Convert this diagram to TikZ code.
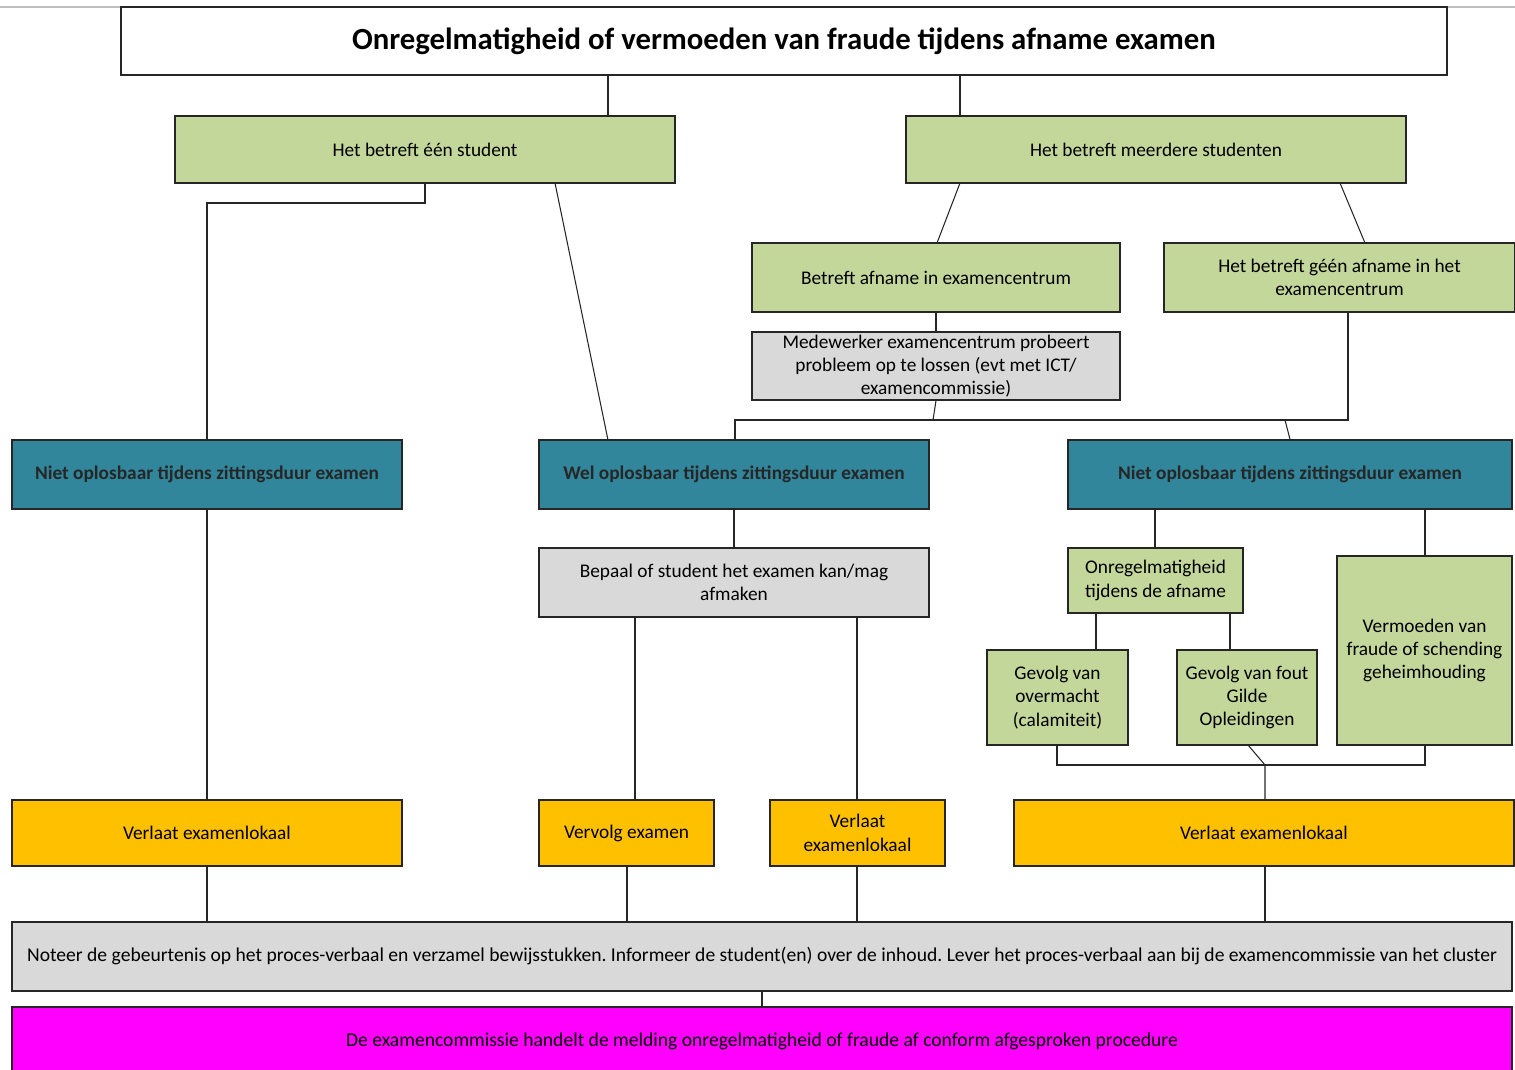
\documentclass[tikz,border=0pt]{standalone}
\usepackage{fontspec}
\setmainfont{Carlito}
\usepackage{tikz}
\frenchspacing

\definecolor{groen}{HTML}{C4D79B}
\definecolor{grijs}{HTML}{D9D9D9}
\definecolor{petrol}{HTML}{31869B}
\definecolor{oranje}{HTML}{FFC000}
\definecolor{roze}{HTML}{FF00FF}

\begin{document}
\begin{tikzpicture}[x=0.02cm, y=-0.02cm,
        blok/.style={draw=black!85, line width=0.8pt, rectangle, align=center, inner sep=1pt,
            font=\fontsize{11}{13.3}\selectfont, text=black},
        groenblok/.style={blok, fill=groen},
        grijsblok/.style={blok, fill=grijs},
        petrolblok/.style={blok, fill=petrol, font=\fontsize{11}{13.3}\selectfont\bfseries, text=black!85},
        oranjeblok/.style={blok, fill=oranje},
        lijn/.style={draw=black!85, line width=0.6pt}]
        \useasboundingbox (0,0) rectangle (1515,1069);
        \draw[black!25, line width=0.8pt] (0,7) -- (1515,7);

        % kop en eerste splitsing
        \node[blok, fill=white, minimum width=26.52cm, minimum height=1.36cm,
            font=\fontsize{17.5}{20}\selectfont\bfseries] (titel) at (784,41) {Onregelmatigheid of vermoeden van fraude tijdens afname examen};
        \node[groenblok, minimum width=10cm, minimum height=1.34cm] (een) at (425,149.5) {Het betreft één student};
        \node[groenblok, minimum width=10cm, minimum height=1.34cm] (meer) at (1156,149.5) {Het betreft meerdere studenten};
        \node[groenblok, minimum width=7.36cm, minimum height=1.38cm] (centrum) at (936,277.5) {Betreft afname in examencentrum};
        \node[groenblok, minimum width=7.02cm, minimum height=1.38cm] (geen) at (1339.5,277.5) {Het betreft géén afname in het\\examencentrum};
        \node[grijsblok, minimum width=7.36cm, minimum height=1.36cm] (medewerker) at (936,366) {Medewerker examencentrum probeert\\probleem op te lossen (evt met ICT/\\examencommissie)};

        % oplosbaar of niet
        \node[petrolblok, minimum width=7.8cm, minimum height=1.38cm] (nietA) at (207,474.5) {Niet oplosbaar tijdens zittingsduur examen};
        \node[petrolblok, minimum width=7.8cm, minimum height=1.38cm] (wel) at (734,474.5) {Wel oplosbaar tijdens zittingsduur examen};
        \node[petrolblok, minimum width=8.88cm, minimum height=1.38cm] (nietB) at (1290,474.5) {Niet oplosbaar tijdens zittingsduur examen};

        \node[grijsblok, minimum width=7.8cm, minimum height=1.38cm] (bepaal) at (734,582.5) {Bepaal of student het examen kan/mag\\afmaken};
        \node[groenblok, minimum width=3.5cm, minimum height=1.3cm] (onreg) at (1155.5,580.5) {Onregelmatigheid\\tijdens de afname};
        \node[groenblok, minimum width=3.5cm, minimum height=3.78cm] (vermoeden) at (1424.5,650.5) {Vermoeden van\\fraude of schending\\geheimhouding};
        \node[groenblok, minimum width=2.82cm, minimum height=1.9cm] (overmacht) at (1057.5,697.5) {Gevolg van\\overmacht\\(calamiteit)};
        \node[groenblok, minimum width=2.8cm, minimum height=1.9cm] (fout) at (1247,697.5) {Gevolg van fout\\Gilde\\Opleidingen};

        % uitkomsten
        \node[oranjeblok, minimum width=7.8cm, minimum height=1.32cm] (verlaatA) at (207,833) {Verlaat examenlokaal};
        \node[oranjeblok, minimum width=3.5cm, minimum height=1.32cm] (vervolg) at (626.5,833) {Vervolg examen};
        \node[oranjeblok, minimum width=3.5cm, minimum height=1.32cm] (verlaatB) at (857.5,833) {Verlaat\\examenlokaal};
        \node[oranjeblok, minimum width=10cm, minimum height=1.32cm] (verlaatC) at (1264,833) {Verlaat examenlokaal};
        \node[grijsblok, minimum width=30cm, minimum height=1.38cm, font=\fontsize{11.15}{13.3}\selectfont] (noteer) at (762,956.5) {Noteer de gebeurtenis op het proces-verbaal en verzamel bewijsstukken. Informeer de student(en) over de inhoud. Lever het proces-verbaal aan bij de examencommissie van het cluster};
        \node[blok, fill=roze, minimum width=30cm, minimum height=1.36cm, font=\fontsize{11.15}{13.3}\selectfont] (afhandeling) at (762,1041) {De examencommissie handelt de melding onregelmatigheid of fraude af conform afgesproken procedure};

        % hulppunten voor de lijnen
        \coordinate (xA) at (608,0);
        \coordinate (xB) at (960,0);
        \coordinate (knikA) at (425,203);
        \coordinate (knikB) at (207,203);
        \coordinate (railL) at (735,420);
        \coordinate (railM) at (933,420);
        \coordinate (railR) at (1348,420);
        \coordinate (railN) at (1285,420);
        \coordinate (xC) at (1096,0);
        \coordinate (xD) at (1230,0);
        \coordinate (xE) at (1425,0);
        \coordinate (xF) at (1155,0);
        \coordinate (hoekL) at (1057,765);
        \coordinate (hoekM) at (1265,765);
        \coordinate (hoekR) at (1425,765);
        \coordinate (xG) at (635,0);
        \coordinate (xH) at (627,0);
        \coordinate (xI) at (857,0);

        % lijnen
        \draw[lijn] (titel.south -| xA) -- (een.north -| xA);
        \draw[lijn] (titel.south -| xB) -- (meer.north -| xB);
        \draw[lijn] (een.south) -- (knikA) -- (knikB) -- (nietA.north);
        \draw[lijn] (555,183) -- (608,440);
        \draw[lijn] (960,183) -- (937,243);
        \draw[lijn] (1340,183) -- (1365,243);
        \draw[lijn] (centrum.south) -- (medewerker.north);
        \draw[lijn] (medewerker.south) -- (railM);
        \draw[lijn] (geen.south -| railR) -- (railR) -- (railL) -- (wel.north -| railL);
        \draw[lijn] (railN) -- (nietB.north);
        \draw[lijn] (nietA.south) -- (verlaatA.north);
        \draw[lijn] (wel.south) -- (bepaal.north);
        \draw[lijn] (nietB.south -| xF) -- (onreg.north -| xF);
        \draw[lijn] (nietB.south -| xE) -- (vermoeden.north -| xE);
        \draw[lijn] (onreg.south -| xC) -- (overmacht.north -| xC);
        \draw[lijn] (onreg.south -| xD) -- (fout.north -| xD);
        \draw[lijn] (overmacht.south -| hoekL) -- (hoekL) -- (hoekR) -- (vermoeden.south -| hoekR);
        \draw[lijn] (1248,745) -- (hoekM) -- (verlaatC.north -| hoekM);
        \draw[lijn] (bepaal.south -| xG) -- (vervolg.north -| xG);
        \draw[lijn] (bepaal.south -| xI) -- (verlaatB.north -| xI);
        \draw[lijn] (verlaatA.south) -- (noteer.north -| verlaatA);
        \draw[lijn] (vervolg.south -| xH) -- (noteer.north -| xH);
        \draw[lijn] (verlaatB.south -| xI) -- (noteer.north -| xI);
        \draw[lijn] (verlaatC.south -| hoekM) -- (noteer.north -| hoekM);
        \draw[lijn] (noteer.south) -- (afhandeling.north);
    \end{tikzpicture}
\end{document}
